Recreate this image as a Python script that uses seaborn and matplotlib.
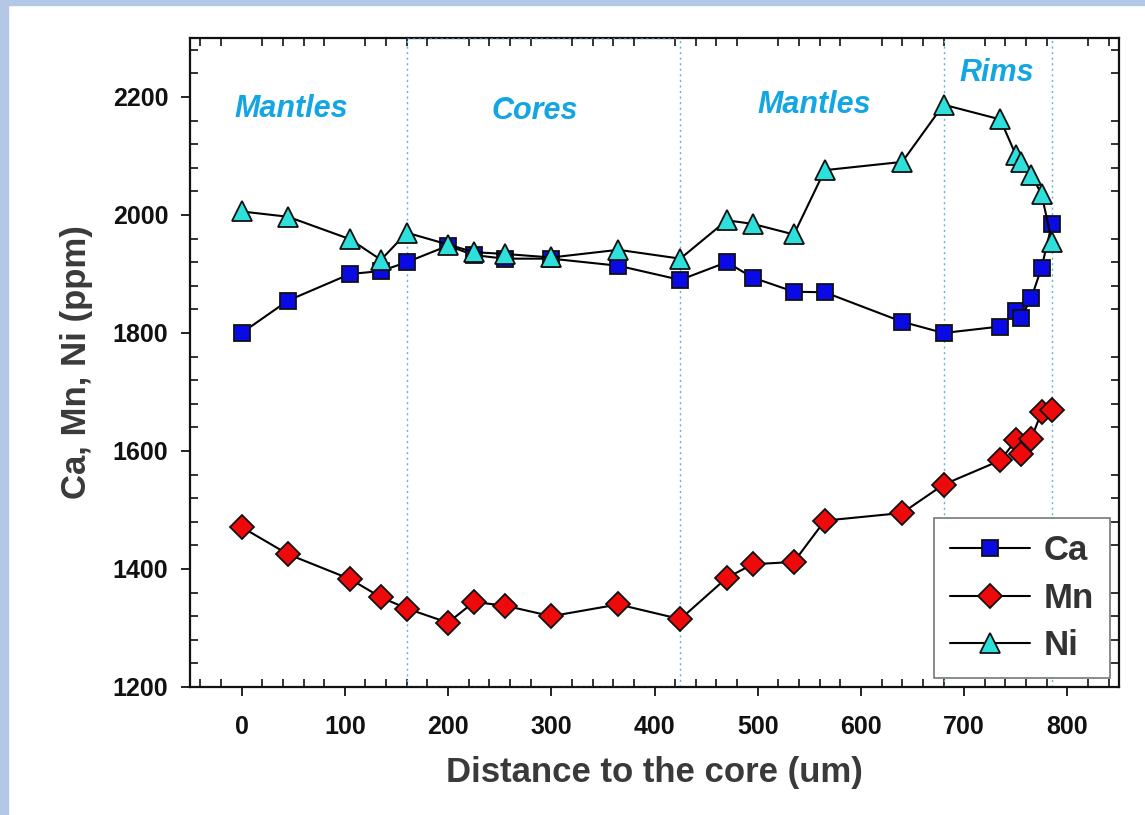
"""
Ca, Mn, Ni profile across a zoned crystal (core -> mantle -> rim).
Recreated with seaborn / matplotlib, saved to out.png.
"""
import matplotlib
matplotlib.use("Agg")
import matplotlib.pyplot as plt
from matplotlib.patches import Rectangle
from matplotlib.ticker import MultipleLocator
import seaborn as sns

# --- data --------------------------------------------------------------------
distance = [0, 45, 105, 135, 160, 200, 225, 255, 300, 365, 425,
            470, 495, 535, 565, 640, 680, 735, 750, 755, 765, 775, 785]

ca = [1800, 1855, 1900, 1905, 1920, 1948, 1932, 1926, 1926, 1914, 1890,
      1920, 1894, 1870, 1869, 1819, 1800, 1811, 1838, 1826, 1859, 1911, 1985]
mn = [1471, 1425, 1383, 1352, 1333, 1309, 1344, 1338, 1320, 1340, 1315,
      1385, 1408, 1412, 1482, 1495, 1543, 1584, 1618, 1595, 1621, 1666, 1669]
ni = [2006, 1997, 1959, 1924, 1970, 1950, 1937, 1934, 1928, 1941, 1926,
      1991, 1985, 1967, 2076, 2090, 2187, 2162, 2102, 2089, 2068, 2035, 1955]

elements = ["Ca", "Mn", "Ni"]
zone_edges = [160, 425, 680, 785]
zone_names = ["Mantles", "Cores", "Mantles", "Rims"]
zone_text_x = [48, 284, 555, 732]
zone_text_y = [2180, 2176, 2186, 2240]

# --- style --------------------------------------------------------------------
sns.set_theme(style="ticks")
plt.rcParams["font.family"] = ["Liberation Sans", "DejaVu Sans"]

styles = {
    "Ca": dict(marker="s", markersize=12, markerfacecolor="#0a0ae6"),
    "Mn": dict(marker="D", markersize=12, markerfacecolor="#ee0a0a"),
    "Ni": dict(marker="^", markersize=14, markerfacecolor="#2ee0dc"),
}
series = {"Ca": ca, "Mn": mn, "Ni": ni}

fig = plt.figure(figsize=(11.45, 8.15), dpi=100, facecolor="white")
# light blue frame of the original slide
fig.patches.append(Rectangle((0, 0), 8 / 1145, 1, transform=fig.transFigure,
                             color="#b4c7e7", zorder=0))
fig.patches.append(Rectangle((0, 1 - 5 / 815), 1, 5 / 815, transform=fig.transFigure,
                             color="#b4c7e7", zorder=0))
ax = fig.add_axes([190 / 1145, 1 - 687 / 815, 929 / 1145, 649 / 815])

for el in elements:
    sns.lineplot(x=distance, y=series[el], ax=ax, sort=False, estimator=None,
                 color="black", lw=1.5, markeredgecolor="#111111",
                 markeredgewidth=1.3, label=el, zorder=3, **styles[el])
handles = list(ax.lines)
if ax.get_legend() is not None:
    ax.get_legend().remove()

# zone boundaries (dotted)
for xv in zone_edges:
    ax.axvline(xv, color="#5fb7cf", lw=1.0, ls=(0, (1.5, 2.5)), zorder=1)
ax.hlines([1200, 2300], zone_edges[0], zone_edges[1], color="#3f7fa8",
          lw=1.0, ls=(0, (1.5, 2.5)), zorder=4)

for name, tx, ty in zip(zone_names, zone_text_x, zone_text_y):
    ax.text(tx, ty, name, color="#14a6e2", fontsize=22, fontweight="bold",
            fontstyle="italic", ha="center", va="center")

ax.set_xlim(-50, 850)
ax.set_ylim(1200, 2300)
ax.xaxis.set_major_locator(MultipleLocator(100))
ax.xaxis.set_minor_locator(MultipleLocator(20))
ax.yaxis.set_major_locator(MultipleLocator(200))
ax.yaxis.set_minor_locator(MultipleLocator(40))

for sp in ax.spines.values():
    sp.set_visible(True)
    sp.set_linewidth(1.6)
    sp.set_color("#111111")

ax.tick_params(which="major", direction="out", length=6.5, width=1.3,
               top=False, right=False, labelsize=18, colors="#111111")
ax.tick_params(which="minor", direction="in", length=5.5, width=1.2,
               top=True, right=True, bottom=True, left=True, colors="#111111")
ax.tick_params(axis="x", which="major", pad=14)
ax.tick_params(axis="y", which="major", pad=9)
for lab in ax.get_xticklabels() + ax.get_yticklabels():
    lab.set_fontweight("bold")

ax.set_xlabel("Distance to the core (um)", fontsize=25, fontweight="bold",
              color="#3a3a3a", labelpad=12)
ax.set_ylabel("Ca, Mn, Ni (ppm)", fontsize=25, fontweight="bold",
              color="#3a3a3a", labelpad=14)

leg = ax.legend(handles=handles, labels=elements, loc="lower right",
                bbox_to_anchor=(0.99, 0.014), borderaxespad=0, fancybox=False,
                framealpha=1, edgecolor="#777777", numpoints=1,
                handlelength=2.3, handletextpad=0.4, labelspacing=0.42,
                borderpad=0.45, prop={"size": 25, "weight": "bold"})
leg.get_frame().set_linewidth(1.2)
for t in leg.get_texts():
    t.set_color("#333333")
leg.set_zorder(5)

fig.savefig("out.png", dpi=100, facecolor=fig.get_facecolor())
